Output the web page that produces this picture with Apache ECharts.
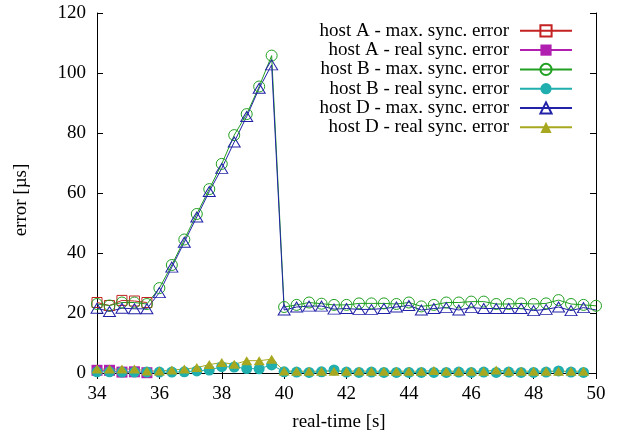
<!DOCTYPE html>
<html>
<head>
<meta charset="utf-8">
<script src="https://cdn.jsdelivr.net/npm/echarts@6/dist/echarts.min.js"></script>
<style>
html,body{margin:0;padding:0;background:#fff;}
#chart{width:617px;height:435px;}
</style>
</head>
<body>
<div id="chart"></div>
<script>
// ---- data ----
const seriesNames = [
  'host A - max. sync. error',
  'host A - real sync. error',
  'host B - max. sync. error',
  'host B - real sync. error',
  'host D - max. sync. error',
  'host D - real sync. error'
];
const xTicks = [34, 36, 38, 40, 42, 44, 46, 48, 50];
const yTicks = [0, 20, 40, 60, 80, 100, 120];

const timeA = [34.0, 34.4, 34.8, 35.2, 35.6];
const hostAMax = [23.5, 22.5, 24.2, 24.0, 23.5];
const hostAReal = [0.9, 0.9, 0.3, 0.4, 0.1];

const timeBD = [34.0, 34.4, 34.8, 35.2, 35.6, 36.0, 36.4, 36.8, 37.2, 37.6,
                38.0, 38.4, 38.8, 39.2, 39.6, 40.0, 40.4, 40.8, 41.2, 41.6,
                42.0, 42.4, 42.8, 43.2, 43.6, 44.0, 44.4, 44.8, 45.2, 45.6,
                46.0, 46.4, 46.8, 47.2, 47.6, 48.0, 48.4, 48.8, 49.2, 49.6, 50.0];

const hostBMax = [23.0, 22.5, 23.5, 23.5, 23.0, 28.3, 36.0, 44.5, 53.0, 61.3,
                  69.7, 79.3, 86.3, 95.5, 105.8, 22.0, 22.7, 23.5, 23.1, 22.7,
                  22.7, 23.2, 23.2, 23.2, 23.0, 23.5, 22.2, 22.7, 23.5, 23.5,
                  23.8, 23.8, 23.0, 23.0, 23.2, 23.0, 23.2, 24.3, 23.0, 22.7, 22.4];

const hostBReal = [0.4, 0.4, 0.3, 0.3, 0.3, 0.3, 0.3, 0.4, 0.7, 1.0,
                   2.1, 2.0, 1.5, 1.4, 2.7, 0.4, 0.3, 0.2, 0.4, 1.0,
                   0.3, 0.2, 0.3, 0.2, 0.2, 0.2, 0.2, 0.2, 0.2, 0.3,
                   0.2, 0.3, 0.2, 0.3, 0.2, 0.2, 0.3, 0.7, 0.3, 0.2];

const hostDMax = [21.6, 20.5, 21.6, 21.4, 21.4, 26.8, 35.3, 43.6, 52.0, 60.5,
                  68.2, 77.0, 85.5, 94.9, 102.7, 21.0, 22.0, 22.3, 22.3, 21.3,
                  21.5, 21.2, 21.2, 21.5, 22.0, 22.5, 21.0, 21.5, 21.8, 21.0,
                  21.8, 21.5, 21.5, 21.5, 21.5, 20.8, 21.2, 22.0, 20.8, 21.8, 21.0];

const hostDReal = [1.3, 1.3, 1.3, 1.3, 0.7, 0.7, 1.0, 1.3, 1.8, 2.8,
                   3.5, 2.9, 4.1, 4.1, 4.6, 0.7, 0.6, 0.6, 0.6, 0.6,
                   0.6, 0.7, 0.6, 0.6, 0.6, 0.6, 0.6, 0.8, 0.6, 0.6,
                   0.6, 0.6, 1.0, 0.6, 0.6, 0.6, 0.6, 0.6, 0.6, 0.6];

// ---- styling ----
const colors = ['#c42222', '#b01fb0', '#22a022', '#20aeae', '#2222a8', '#a8a820'];
const FONT = 'Liberation Serif';
const FS = 19;

function pairs(xs, ys) {
  return ys.map((v, i) => [xs[i], v]);
}

function hollow(name, idx, symbol, size, data) {
  return {
    name: name, type: 'line', data: data, symbol: symbol, symbolSize: size,
    lineStyle: {color: colors[idx], width: 1},
    itemStyle: {color: 'rgba(255,255,255,0)', borderColor: colors[idx], borderWidth: 1},
    emphasis: {disabled: true}, silent: true, animation: false
  };
}
function filled(name, idx, symbol, size, data) {
  return {
    name: name, type: 'line', data: data, symbol: symbol, symbolSize: size,
    lineStyle: {color: colors[idx], width: 1},
    itemStyle: {color: colors[idx], borderWidth: 0},
    emphasis: {disabled: true}, silent: true, animation: false
  };
}

const dMaxData = pairs(timeBD, hostDMax);
dMaxData[dMaxData.length - 1] = {value: dMaxData[dMaxData.length - 1], symbol: 'none'};

const series = [
  hollow(seriesNames[0], 0, 'rect', 10, pairs(timeA, hostAMax)),
  filled(seriesNames[1], 1, 'rect', 11, pairs(timeA, hostAReal)),
  hollow(seriesNames[2], 2, 'circle', 11, pairs(timeBD, hostBMax)),
  filled(seriesNames[3], 3, 'circle', 11, pairs(timeBD, hostBReal)),
  hollow(seriesNames[4], 4, 'triangle', [12, 10], dMaxData),
  filled(seriesNames[5], 5, 'triangle', [11, 9], pairs(timeBD, hostDReal))
];

const legends = seriesNames.map((n, i) => ({
  data: [n], orient: 'horizontal', align: 'right',
  right: 44, top: 28.3 + i * 19.3 - 7,
  itemWidth: 52, itemHeight: 14, padding: 0, selectedMode: false,
  textStyle: {fontFamily: FONT, fontSize: FS, color: '#000', padding: [0, 6, 0, 0]}
}));

const axisLine = {show: true, lineStyle: {color: '#000', width: 1}};
const tick = {show: true, inside: true, length: 6, lineStyle: {color: '#000', width: 1}};
const label = {fontFamily: FONT, fontSize: FS, color: '#000'};

const option = {
  animation: false,
  backgroundColor: '#fff',
  grid: {left: 97, right: 21, top: 13, bottom: 62, containLabel: false},
  legend: legends,
  xAxis: [
    {type: 'value', min: xTicks[0], max: xTicks[xTicks.length - 1], interval: 2, position: 'bottom',
     axisLine: axisLine, axisTick: tick, splitLine: {show: false},
     axisLabel: Object.assign({margin: 12}, label)},
    {type: 'value', min: xTicks[0], max: xTicks[xTicks.length - 1], interval: 2, position: 'top',
     axisLine: axisLine, axisTick: tick, splitLine: {show: false}, axisLabel: {show: false}}
  ],
  yAxis: [
    {type: 'value', min: yTicks[0], max: yTicks[yTicks.length - 1], interval: 20, position: 'left',
     axisLine: axisLine, axisTick: tick, splitLine: {show: false},
     axisLabel: Object.assign({margin: 11}, label)},
    {type: 'value', min: yTicks[0], max: yTicks[yTicks.length - 1], interval: 20, position: 'right',
     axisLine: axisLine, axisTick: tick, splitLine: {show: false}, axisLabel: {show: false}}
  ],
  graphic: [
    {type: 'text', x: 339, y: 422, silent: true,
     style: {text: 'real-time [s]', font: FS + 'px "' + FONT + '"', fill: '#000', align: 'center', verticalAlign: 'middle'}},
    {type: 'text', x: 21, y: 200, rotation: Math.PI / 2, silent: true,
     style: {text: 'error [µs]', font: FS + 'px "' + FONT + '"', fill: '#000', align: 'center', verticalAlign: 'middle'}}
  ],
  series: series
};

const chart = echarts.init(document.getElementById('chart'), null, {renderer: 'canvas'});
chart.setOption(option);
</script>
</body>
</html>
